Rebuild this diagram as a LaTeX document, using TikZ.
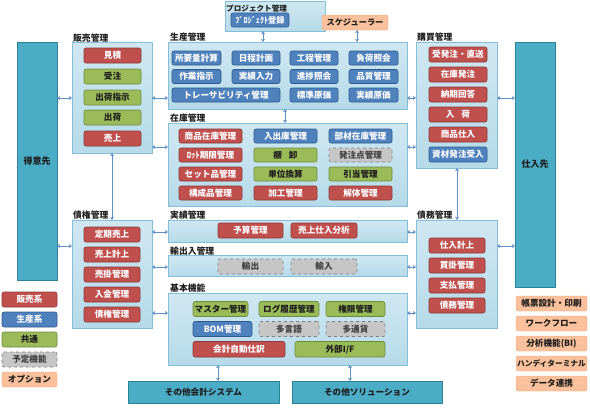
\documentclass[tikz,border=0pt]{standalone}
\usepackage{fontspec}
\setmainfont{Noto Sans CJK JP}
\usetikzlibrary{arrows.meta}
\definecolor{modfill}{HTML}{C3E1ED}
\definecolor{modfilltop}{HTML}{CFE8F2}
\definecolor{modfillbot}{HTML}{B6DAE9}
\definecolor{moddraw}{HTML}{86BED8}
\definecolor{tealfill}{HTML}{4BACC6}
\definecolor{tealdraw}{HTML}{2F8099}
\definecolor{redfill}{HTML}{C0504D}
\definecolor{reddraw}{HTML}{8C3836}
\definecolor{bluefill}{HTML}{4F81BD}
\definecolor{bluedraw}{HTML}{2F5A8E}
\definecolor{greenfill}{HTML}{9BBB59}
\definecolor{greendraw}{HTML}{6E8B3D}
\definecolor{grayfill}{HTML}{C6C6C6}
\definecolor{graydraw}{HTML}{808080}
\definecolor{orangefill}{HTML}{FAC19C}
\definecolor{orangedraw}{HTML}{F0A97C}
\definecolor{arrowcol}{HTML}{5F8FC8}
\definecolor{lbltext}{HTML}{1E1E1E}
\newcommand{\bx}[7]{\node[#2,minimum width={(#5-#3)*1pt},minimum height={(#6-#4)*1pt}] (#1) at ({(#3+#5)/2},{(#4+#6)/2}) {#7};}
\tikzset{
  base/.style={inner sep=0pt,outer sep=0pt,font=\fontsize{8.6}{9}\selectfont\bfseries,line width=0.6pt},
  itemr/.style={base,rounded corners=2pt,fill=redfill,draw=reddraw,text=white},
  itemb/.style={base,rounded corners=2pt,fill=bluefill,draw=bluedraw,text=white},
  itemg/.style={base,rounded corners=2pt,fill=greenfill,draw=greendraw,text=lbltext},
  itemy/.style={base,rounded corners=2pt,fill=grayfill,draw=graydraw,dashed,text=lbltext!85},
  itemo/.style={base,rounded corners=2pt,fill=orangefill,draw=orangedraw,line width=0.4pt,text=lbltext},
  modbox/.style={base,top color=modfilltop,bottom color=modfillbot,draw=moddraw},
  teal/.style={base,fill=tealfill,draw=tealdraw,text=lbltext,font=\fontsize{9}{10}\selectfont\bfseries},
  lbl/.style={inner sep=0pt,font=\fontsize{8.8}{9}\selectfont\bfseries,text=lbltext,anchor=base west},
  arr/.style={draw=arrowcol,line width=0.9pt,{Stealth[length=3.2pt,width=4pt]}-{Stealth[length=3.2pt,width=4pt]}}
}
\begin{document}
\begin{tikzpicture}[x=1pt,y=-1pt]
\useasboundingbox (0,0) rectangle (590,408);
% outer partners
\bx{tokui}{teal}{17}{42}{57}{280}{得意先}
\bx{shiire}{teal}{515}{42}{555}{287}{仕入先}
\bx{kaikei}{teal,font=\fontsize{8.6}{9}\selectfont\bfseries}{128}{381}{279}{403}{その他会計システム}
\bx{solution}{teal,font=\fontsize{8.6}{9}\selectfont\bfseries}{292}{381}{442}{403}{その他ソリューション}
% module boxes
\bx{proj}{modbox}{225}{1}{325}{31}{}
\bx{hanbai}{modbox}{72}{42}{152}{153}{}
\bx{seisan}{modbox}{168}{42}{407}{109}{}
\bx{zaiko}{modbox}{168}{123}{407}{206}{}
\bx{koubai}{modbox}{416}{42}{497}{168}{}
\bx{saiken}{modbox}{72}{220}{152}{328}{}
\bx{jisseki}{modbox}{168}{220}{407}{242}{}
\bx{yushutsu}{modbox}{168}{255}{407}{276}{}
\bx{kihon}{modbox}{168}{293}{407}{365}{}
\bx{saimu}{modbox}{416}{220}{497}{328}{}
% module labels
\node[lbl,font=\fontsize{7.6}{8}\selectfont\bfseries] (lproj) at (226,11) {プロジェクト管理};
\node[lbl] (lhanbai) at (73,41) {販売管理};
\node[lbl] (lseisan) at (170,40) {生産管理};
\node[lbl] (lzaiko) at (170,121.5) {在庫管理};
\node[lbl] (lkoubai) at (417,40.5) {購買管理};
\node[lbl] (lsaiken) at (73,218.5) {債権管理};
\node[lbl] (ljisseki) at (170,218) {実績管理};
\node[lbl] (lyushutsu) at (170,254) {輸出入管理};
\node[lbl] (lkihon) at (170,291.5) {基本機能};
\node[lbl] (lsaimu) at (417,218) {債務管理};
% project & scheduler
\bx{p1}{itemb,font=\fontsize{8.2}{9}\selectfont\bfseries}{231}{13}{289}{27}{ﾌﾟﾛｼﾞｪｸﾄ登録}
\bx{sched}{itemo,font=\fontsize{8.2}{9}\selectfont\bfseries}{322}{15}{388}{30}{スケジューラー}
% hanbai items
\bx{h1}{itemr}{84}{48}{141}{63}{見積}
\bx{h2}{itemg}{84}{69}{141}{84}{受注}
\bx{h3}{itemg}{84}{90}{141}{105}{出荷指示}
\bx{h4}{itemg}{84}{110}{141}{125}{出荷}
\bx{h5}{itemr}{84}{131}{141}{146}{売上}
% seisan items
\bx{s1}{itemb}{172}{51}{221}{65}{所要量計算}
\bx{s2}{itemb}{232}{51}{280}{65}{日程計画}
\bx{s3}{itemb}{290}{51}{338}{65}{工程管理}
\bx{s4}{itemb}{349}{51}{398}{65}{負荷照会}
\bx{s5}{itemb}{172}{69.5}{221}{83.5}{作業指示}
\bx{s6}{itemb}{232}{69.5}{280}{83.5}{実績入力}
\bx{s7}{itemb}{290}{69.5}{338}{83.5}{進捗照会}
\bx{s8}{itemb}{349}{69.5}{398}{83.5}{品質管理}
\bx{s9}{itemb}{172}{88}{280}{102}{トレーサビリティ管理}
\bx{s10}{itemb}{290}{88}{338}{102}{標準原価}
\bx{s11}{itemb}{349}{88}{398}{102}{実績原価}
% zaiko items
\bx{z1}{itemr}{179}{129}{242}{143}{商品在庫管理}
\bx{z2}{itemb}{254}{129}{317}{143}{入出庫管理}
\bx{z3}{itemb}{329}{129}{392}{143}{部材在庫管理}
\bx{z4}{itemr}{179}{148}{242}{162}{ﾛｯﾄ期限管理}
\bx{z5}{itemg}{254}{148}{317}{162}{棚\hspace{0.8em}卸}
\bx{z6}{itemy}{329}{148}{392}{162}{発注点管理}
\bx{z7}{itemr}{179}{167}{242}{181}{セット品管理}
\bx{z8}{itemg}{254}{167}{317}{181}{単位換算}
\bx{z9}{itemg}{329}{167}{392}{181}{引当管理}
\bx{z10}{itemr}{179}{186}{242}{200}{構成品管理}
\bx{z11}{itemr}{254}{186}{317}{200}{加工管理}
\bx{z12}{itemr}{329}{186}{392}{200}{解体管理}
% koubai items
\bx{k1}{itemr}{429}{47}{487}{62}{受発注・直送}
\bx{k2}{itemr}{429}{67}{487}{82}{在庫発注}
\bx{k3}{itemr}{429}{87}{487}{102}{納期回答}
\bx{k4}{itemr}{429}{107}{487}{122}{入\hspace{0.8em}荷}
\bx{k5}{itemr}{429}{127}{487}{142}{商品仕入}
\bx{k6}{itemb}{429}{147}{487}{162}{資材発注受入}
% saiken items
\bx{c1}{itemr}{84}{227}{140}{242}{定期売上}
\bx{c2}{itemr}{84}{247}{140}{262}{売上計上}
\bx{c3}{itemr}{84}{267}{140}{282}{売掛管理}
\bx{c4}{itemr}{84}{287}{140}{302}{入金管理}
\bx{c5}{itemr}{84}{307}{140}{322}{債権管理}
% jisseki / yushutsu
\bx{j1}{itemr}{218}{223}{283}{238}{予算管理}
\bx{j2}{itemr}{291}{223}{357}{238}{売上仕入分析}
\bx{y1}{itemy}{218}{259}{283}{274}{輸出}
\bx{y2}{itemy}{291}{259}{357}{274}{輸入}
% kihon items
\bx{b1}{itemg}{193}{301.5}{248}{316.5}{マスター管理}
\bx{b2}{itemg}{259}{301.5}{319}{316.5}{ログ履歴管理}
\bx{b3}{itemg}{326}{301.5}{385}{316.5}{権限管理}
\bx{b4}{itemb}{193}{321.5}{252}{336.5}{BOM管理}
\bx{b5}{itemy}{259}{321.5}{319}{336.5}{多言語}
\bx{b6}{itemy}{326}{321.5}{385}{336.5}{多通貨}
\bx{b7}{itemr}{193}{341.5}{285}{357}{会計自動仕訳}
\bx{b8}{itemg}{295}{341.5}{385}{357}{外部I/F}
% saimu items
\bx{d1}{itemr}{429}{238}{485}{253}{仕入計上}
\bx{d2}{itemr}{429}{258}{485}{273}{買掛管理}
\bx{d3}{itemr}{429}{278}{485}{293}{支払管理}
\bx{d4}{itemr}{429}{298}{485}{313}{債務管理}
% legend left
\bx{g1}{itemr}{2}{292}{57}{307}{販売系}
\bx{g2}{itemb}{2}{312}{57}{327}{生産系}
\bx{g3}{itemg}{2}{332}{57}{347}{共通}
\bx{g4}{itemy}{2}{352}{57}{367}{予定機能}
\bx{g5}{itemo}{2}{372}{57}{387}{オプション}
% legend right
\bx{o1}{itemo}{516}{296}{587}{311}{帳票設計・印刷}
\bx{o2}{itemo}{516}{316}{587}{331}{ワークフロー}
\bx{o3}{itemo}{516}{336}{587}{351}{分析機能(BI)}
\bx{o4}{itemo,font=\fontsize{7.7}{9}\selectfont\bfseries}{516}{356}{587}{371}{ハンディターミナル}
\bx{o5}{itemo}{516}{376}{587}{391}{データ連携}
% connectors
\draw[arr] (tokui.east |- 0,98) -- (hanbai.west |- 0,98);
\draw[arr] (hanbai.east |- 0,98) -- (seisan.west |- 0,98);
\draw[arr] (seisan.east |- 0,98) -- (koubai.west |- 0,98);
\draw[arr] (koubai.east |- 0,98) -- (shiire.west |- 0,98);
\draw[arr] (hanbai.east |- 0,147) -- (zaiko.west |- 0,147);
\draw[arr] (zaiko.east |- 0,147) -- (koubai.west |- 0,147);
\draw[arr] (proj.south -| 263,0) -- (seisan.north -| 263,0);
\draw[arr] (sched.south -| 357,0) -- (seisan.north -| 357,0);
\draw[arr] (seisan.south -| 285,0) -- (zaiko.north -| 285,0);
\draw[arr] (hanbai.south -| 112,0) -- (saiken.north -| 112,0);
\draw[arr] (koubai.south -| 457,0) -- (saimu.north -| 457,0);
\draw[arr] (tokui.east |- 0,246) -- (saiken.west |- 0,246);
\draw[arr] (saiken.east |- 0,232) -- (jisseki.west |- 0,232);
\draw[arr] (saiken.east |- 0,267) -- (yushutsu.west |- 0,267);
\draw[arr] (saiken.east |- 0,313) -- (kihon.west |- 0,313);
\draw[arr] (jisseki.east |- 0,232) -- (saimu.west |- 0,232);
\draw[arr] (yushutsu.east |- 0,267) -- (saimu.west |- 0,267);
\draw[arr] (kihon.east |- 0,313) -- (saimu.west |- 0,313);
\draw[arr] (saimu.east |- 0,246) -- (shiire.west |- 0,246);
\draw[arr] (kihon.south -| 218,0) -- (kaikei.north -| 218,0);
\draw[arr] (kihon.south -| 350,0) -- (solution.north -| 350,0);
\end{tikzpicture}
\end{document}
